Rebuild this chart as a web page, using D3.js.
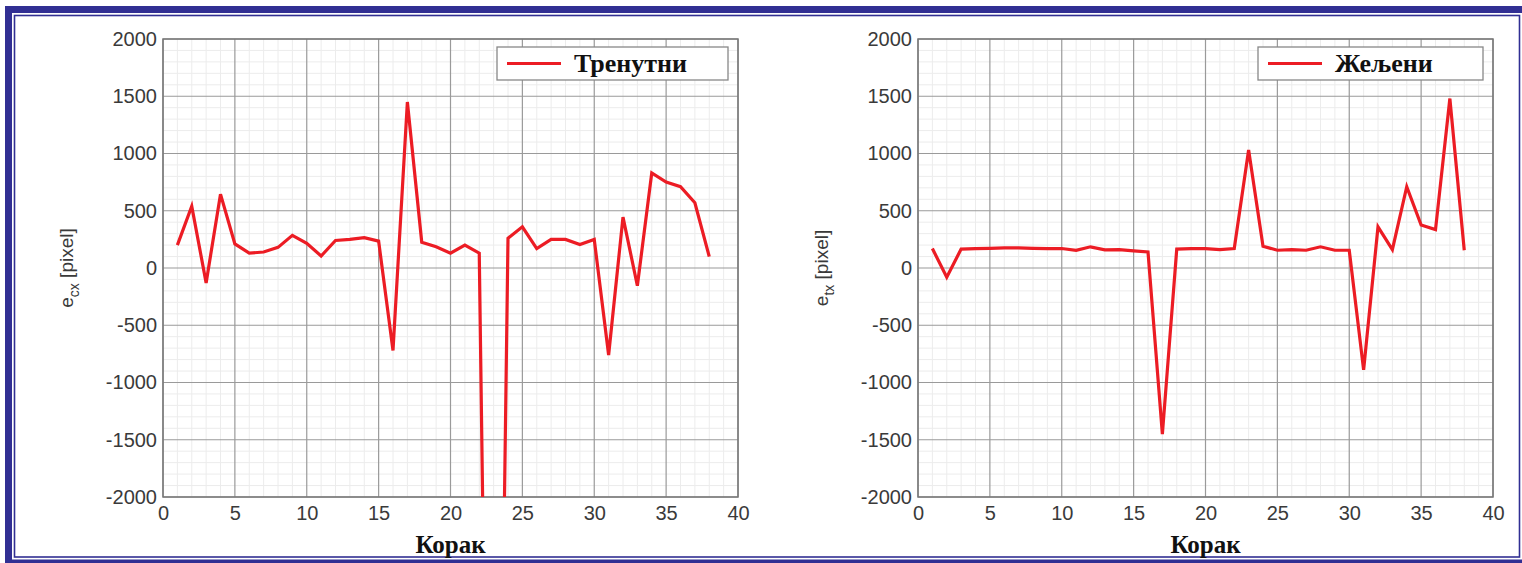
<!DOCTYPE html>
<html><head><meta charset="utf-8">
<script src="https://cdn.jsdelivr.net/npm/d3@7"></script>
<style>body{margin:0;background:#fff} svg{display:block}</style>
</head><body>
<svg id="c" width="1522" height="563"></svg>
<script>
// Step index (Корак) shared by both panels
const steps = d3.range(1, 39);
// Current error e_cx per step (step 23 falls far below the visible range)
const trenutni = [200, 540, -130, 645, 210, 130, 140, 180, 285, 215, 105, 240, 250, 265, 235, -720, 1450, 225, 185, 130, 200, 130, -9000, 260, 360, 170, 250, 250, 205, 250, -760, 445, -155, 830, 750, 710, 570, 100];
// Desired error e_tx per step
const zeljeni = [170, -80, 165, 170, 172, 175, 175, 172, 170, 170, 155, 185, 158, 160, 150, 140, -1450, 165, 170, 170, 160, 170, 1030, 190, 155, 160, 155, 185, 155, 155, -890, 360, 160, 710, 375, 335, 1480, 155];
const xTicks = [0, 5, 10, 15, 20, 25, 30, 35, 40];
const yTicks = [-2000, -1500, -1000, -500, 0, 500, 1000, 1500, 2000];
const xLabel = "Корак";

const svg = d3.select("#c");
const blue = "#312f93";

// page frame: heavy outer band plus a thin inner rule
svg.append("rect").attr("x", 8.5).attr("y", 9.5).attr("width", 1530).attr("height", 553.5)
  .attr("fill", "none").attr("stroke", blue).attr("stroke-width", 7);
svg.append("rect").attr("x", 14.5).attr("y", 15.5).attr("width", 1505).attr("height", 541.5)
  .attr("fill", "none").attr("stroke", blue).attr("stroke-width", 1.6);

const panels = [
  { id: "a", left: 163, values: trenutni, sub: "cx", legend: "Тренутни", boxW: 231 },
  { id: "b", left: 918, values: zeljeni, sub: "tx", legend: "Жељени", boxW: 225 }
];
const plotTop = 39, plotBottom = 497, plotW = 575;
const fmt = d => String(d);

panels.forEach(p => {
  const x = d3.scaleLinear().domain([0, 40]).range([p.left, p.left + plotW]);
  const y = d3.scaleLinear().domain([-2000, 2000]).range([plotBottom, plotTop]);
  const g = svg.append("g");

  // minor grid
  g.append("g").selectAll("line").data(d3.range(1, 40).filter(v => v % 5))
    .join("line").attr("x1", d => x(d)).attr("x2", d => x(d))
    .attr("y1", plotTop).attr("y2", plotBottom)
    .attr("stroke", "#ececec").attr("stroke-width", 1);
  g.append("g").selectAll("line").data(d3.range(-1900, 2000, 100).filter(v => v % 500))
    .join("line").attr("y1", d => y(d)).attr("y2", d => y(d))
    .attr("x1", p.left).attr("x2", p.left + plotW)
    .attr("stroke", "#ececec").attr("stroke-width", 1);

  // major grid
  g.append("g").selectAll("line").data(xTicks)
    .join("line").attr("x1", d => x(d)).attr("x2", d => x(d))
    .attr("y1", plotTop).attr("y2", plotBottom)
    .attr("stroke", "#9a9a9a").attr("stroke-width", 1.2);
  g.append("g").selectAll("line").data(yTicks)
    .join("line").attr("y1", d => y(d)).attr("y2", d => y(d))
    .attr("x1", p.left).attr("x2", p.left + plotW)
    .attr("stroke", "#9a9a9a").attr("stroke-width", 1.2);

  // axes with tick labels
  const xa = g.append("g").attr("transform", `translate(0,${plotBottom})`)
    .call(d3.axisBottom(x).tickValues(xTicks).tickFormat(fmt).tickSize(0).tickPadding(9));
  const ya = g.append("g").attr("transform", `translate(${p.left},0)`)
    .call(d3.axisLeft(y).tickValues(yTicks).tickFormat(fmt).tickSize(0).tickPadding(6));
  [xa, ya].forEach(a => {
    a.select(".domain").remove();
    a.selectAll("text").attr("font-family", "Liberation Sans, Arial, sans-serif")
      .attr("font-size", 20).attr("fill", "#3a3a3a");
  });

  // plot box
  g.append("rect").attr("x", p.left).attr("y", plotTop).attr("width", plotW).attr("height", plotBottom - plotTop)
    .attr("fill", "none").attr("stroke", "#777").attr("stroke-width", 1.5);

  // data line, clipped to the axes
  svg.append("clipPath").attr("id", "clip" + p.id).append("rect")
    .attr("x", p.left).attr("y", plotTop).attr("width", plotW).attr("height", plotBottom - plotTop);
  const line = d3.line().x((d, i) => x(steps[i])).y(d => y(d));
  g.append("path").datum(p.values).attr("d", line)
    .attr("clip-path", `url(#clip${p.id})`)
    .attr("fill", "none").attr("stroke", "#ec1c24").attr("stroke-width", 3.2)
    .attr("stroke-linejoin", "miter");

  // legend
  const bx = p.left + plotW - 10 - p.boxW, by = 47;
  const lg = g.append("g").attr("transform", `translate(${bx},${by})`);
  lg.append("rect").attr("width", p.boxW).attr("height", 33)
    .attr("fill", "#fff").attr("stroke", "#888").attr("stroke-width", 1.3);
  lg.append("line").attr("x1", 10).attr("x2", 64).attr("y1", 16.5).attr("y2", 16.5)
    .attr("stroke", "#ec1c24").attr("stroke-width", 3.2);
  lg.append("text").attr("x", 77).attr("y", 25).text(p.legend)
    .attr("font-family", "Liberation Serif, Times New Roman, serif")
    .attr("font-weight", "bold").attr("font-size", 26).attr("fill", "#111");

  // axis titles
  g.append("text").attr("x", x(20)).attr("y", 553).attr("text-anchor", "middle").text(xLabel)
    .attr("font-family", "Liberation Serif, Times New Roman, serif")
    .attr("font-weight", "bold").attr("font-size", 25).attr("fill", "#111");
  const yl = g.append("text").attr("transform", `translate(${p.left - 90},${(plotTop + plotBottom) / 2}) rotate(-90)`)
    .attr("text-anchor", "middle")
    .attr("font-family", "Liberation Sans, Arial, sans-serif").attr("font-size", 19).attr("fill", "#3a3a3a");
  yl.append("tspan").text("e");
  yl.append("tspan").attr("dy", 6).attr("font-size", 14).text(p.sub);
  yl.append("tspan").attr("dy", -6).text(" [pixel]");
});
</script>
</body></html>
